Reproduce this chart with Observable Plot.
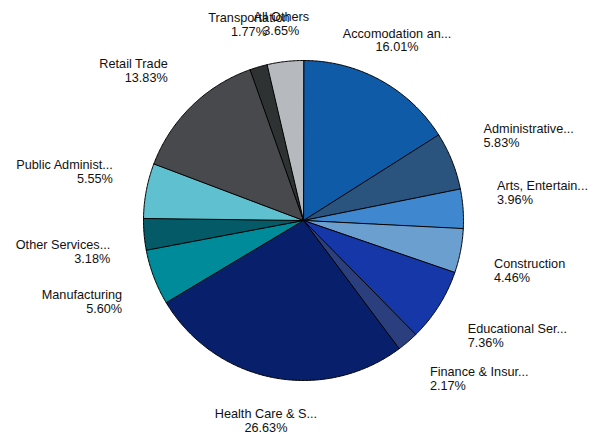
<!DOCTYPE html>
<html>
<head>
<meta charset="utf-8">
<script src="https://cdn.jsdelivr.net/npm/d3@7"></script>
<script src="https://cdn.jsdelivr.net/npm/@observablehq/plot@0.6"></script>
<style>
  html, body { margin: 0; padding: 0; background: #fff; }
</style>
</head>
<body>
<div id="chart"></div>
<script>
// ---- data ----
const categories = [
  "Accomodation an...", "Administrative...", "Arts, Entertain...", "Construction",
  "Educational Ser...", "Finance & Insur...", "Health Care & S...", "Manufacturing",
  "Other Services...", "Public Administ...", "Retail Trade", "Transportation",
  "All Others"
];
const shares = [16.01, 5.83, 3.96, 4.46, 7.36, 2.17, 26.63, 5.60, 3.18, 5.55, 13.83, 1.77, 3.65];
const colors = [
  "#0f5ba8", "#2a547e", "#3f88d0", "#6a9fd0", "#1537a8", "#2b3f7e", "#08206b",
  "#008b9a", "#045a66", "#5fc0cf", "#47494c", "#2e3232", "#b6babe"
];

// ---- layout ----
const W = 589, H = 436;
const cx = 303, cy = 220, R = 160;   // pie centre and radius in pixels
const labelRx = 194 / R, labelRy = 190 / R, labelPush = 14 / R;
const labelTop = (cy - 23) / R, labelBottom = -(422 - cy) / R;

const total = d3.sum(shares);
const pie = [];
let acc = 0;
categories.forEach((cat, i) => {
  const a0 = acc / total * 2 * Math.PI;
  acc += shares[i];
  const a1 = acc / total * 2 * Math.PI;
  pie.push({cat, value: shares[i], a0, a1, mid: (a0 + a1) / 2});
});

// slice polygons (unit radius)
const pts = [];
for (const s of pie) {
  pts.push({cat: s.cat, x: 0, y: 0});
  const n = Math.max(2, Math.ceil((s.a1 - s.a0) / (Math.PI / 360)));
  for (let k = 0; k <= n; k++) {
    const a = s.a0 + (s.a1 - s.a0) * k / n;
    pts.push({cat: s.cat, x: Math.sin(a), y: Math.cos(a)});
  }
}

// labels
const labels = pie.map(s => {
  const sx = Math.sin(s.mid), c = Math.cos(s.mid);
  let y = labelRy * c + Math.sign(c) * labelPush;
  y = Math.max(Math.min(y, labelTop), labelBottom);
  const align = Math.abs(sx) < 0.5 ? "middle" : (sx > 0 ? "start" : "end");
  return {x: labelRx * sx, y, align, text: `${s.cat}\n${s.value.toFixed(2)}%`};
});

const textOpts = {x: "x", y: "y", text: "text", fontSize: 12.7, lineHeight: 1.1,
  lineAnchor: "middle", fill: "#111"};

const chart = Plot.plot({
  width: W, height: H,
  margin: 0,
  style: {fontFamily: "'Liberation Sans', Arial, sans-serif", background: "#fff"},
  x: {domain: [-cx / R, (W - cx) / R], range: [0, W], axis: null},
  y: {domain: [-(H - cy) / R, cy / R], range: [H, 0], axis: null},
  color: {domain: categories, range: colors},
  marks: [
    Plot.line(pts, {x: "x", y: "y", z: "cat", fill: "cat", stroke: "#000",
      strokeWidth: 1, curve: "linear-closed", strokeLinejoin: "round"}),
    Plot.text(labels.filter(d => d.align === "start"), {...textOpts, textAnchor: "start"}),
    Plot.text(labels.filter(d => d.align === "end"), {...textOpts, textAnchor: "end"}),
    Plot.text(labels.filter(d => d.align === "middle"), {...textOpts, textAnchor: "middle"})
  ]
});
document.getElementById("chart").appendChild(chart);
</script>
</body>
</html>
